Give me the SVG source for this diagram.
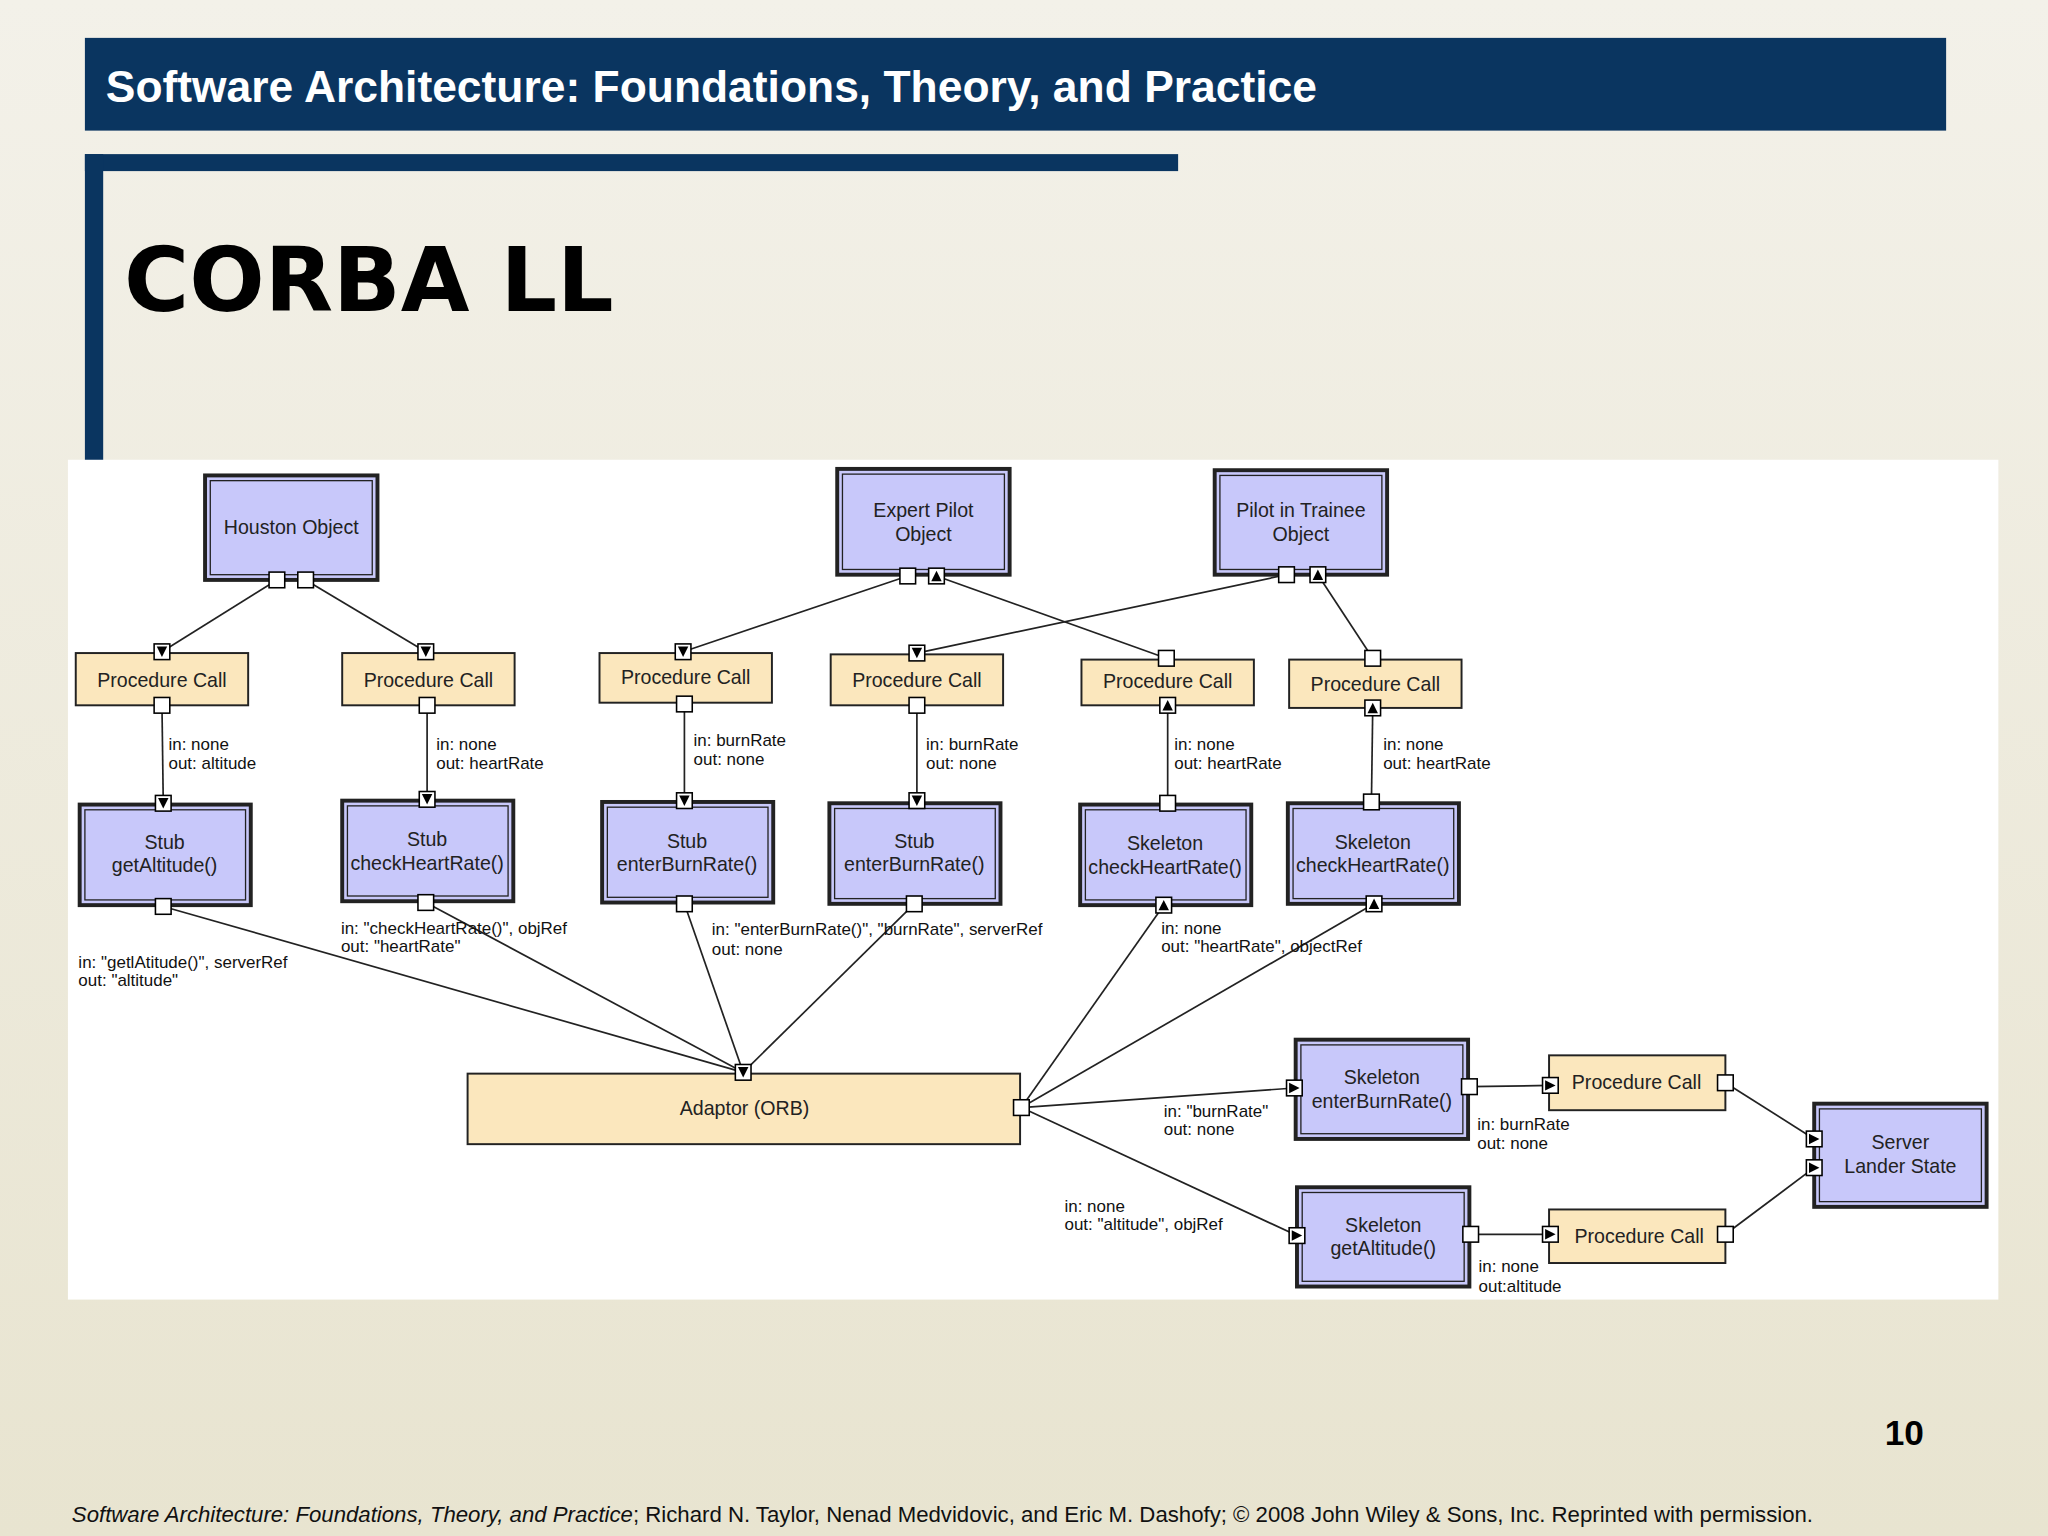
<svg xmlns="http://www.w3.org/2000/svg" width="2048" height="1536" viewBox="0 0 2048 1536">
<defs>
<linearGradient id="bg" x1="0" y1="0" x2="0" y2="1"><stop offset="0" stop-color="#f3f1e9"/><stop offset="1" stop-color="#e8e4d0"/></linearGradient>
<g id="pp"><rect x="-6" y="-6" width="12" height="12" fill="#fff" stroke="#000" stroke-width="1.2"/></g>
<g id="pd"><rect x="-6" y="-6" width="12" height="12" fill="#fff" stroke="#000" stroke-width="1.2"/><path d="M-4,-4 L4,-4 L0,4 Z" fill="#000"/></g>
<g id="pu"><rect x="-6" y="-6" width="12" height="12" fill="#fff" stroke="#000" stroke-width="1.2"/><path d="M-4,4 L4,4 L0,-4 Z" fill="#000"/></g>
<g id="pr"><rect x="-6" y="-6" width="12" height="12" fill="#fff" stroke="#000" stroke-width="1.2"/><path d="M-4,-4 L-4,4 L4,0 Z" fill="#000"/></g>
</defs>
<style>
.b{fill:#c8c8fa;stroke:#222;stroke-width:3}
.bi{fill:none;stroke:#222;stroke-width:1}
.t{fill:#fbe7bd;stroke:#222;stroke-width:1.5}
.n{font-family:"Liberation Sans",Arial,sans-serif;font-size:15px;fill:#222;text-anchor:middle}
.l{font-family:"Liberation Sans",Arial,sans-serif;font-size:13px;fill:#111}
.c line{stroke:#222;stroke-width:1.3}
</style>
<rect width="2048" height="1536" fill="url(#bg)"/>
<g transform="scale(1.306122)">
<rect x="65" y="29" width="1425" height="71" fill="#0a3560"/>
<text x="81" y="78" font-family="Liberation Sans,Arial,sans-serif" font-weight="bold" font-size="34" fill="#fff">Software Architecture: Foundations, Theory, and Practice</text>
<rect x="65" y="118" width="837" height="13" fill="#0a3560"/>
<rect x="65" y="118" width="14" height="236" fill="#0a3560"/>
<text x="95" y="238" font-family="DejaVu Sans,Verdana,sans-serif" font-weight="bold" font-size="68" fill="#000">CORBA LL</text>
<rect x="52" y="352" width="1478" height="643" fill="#fff"/>

<g class="c">
<line x1="212" y1="444" x2="124" y2="499"/><line x1="234" y1="444" x2="326" y2="499"/>
<line x1="695" y1="441" x2="523" y2="499"/><line x1="717" y1="441" x2="893" y2="504"/>
<line x1="985" y1="440" x2="702" y2="500"/><line x1="1009" y1="440" x2="1051" y2="504"/>
<line x1="124" y1="540" x2="125" y2="615"/><line x1="327" y1="540" x2="327" y2="612"/>
<line x1="524" y1="539" x2="524" y2="613"/><line x1="702" y1="540" x2="702" y2="613"/>
<line x1="894" y1="540" x2="894" y2="615"/><line x1="1051" y1="542" x2="1050" y2="614"/>
<line x1="125" y1="694" x2="569" y2="821"/><line x1="326" y1="691" x2="569" y2="821"/>
<line x1="524" y1="692" x2="569" y2="821"/><line x1="700" y1="692" x2="569" y2="821"/>
<line x1="891" y1="693" x2="782" y2="848"/><line x1="1052" y1="692" x2="782" y2="848"/>
<line x1="782" y1="848" x2="991" y2="833"/><line x1="782" y1="848" x2="993" y2="946"/>
<line x1="1125" y1="832" x2="1187" y2="831"/><line x1="1126" y1="945" x2="1187" y2="945"/>
<line x1="1321" y1="829" x2="1389" y2="872"/><line x1="1321" y1="945" x2="1389" y2="894"/>
</g>

<g id="houston"><rect class="b" x="157" y="364" width="132" height="80"/><rect class="bi" x="161" y="368" width="124" height="72"/><text class="n" x="223" y="409">Houston Object</text><use href="#pp" x="212" y="444"/><use href="#pp" x="234" y="444"/></g>
<g id="expert"><rect class="b" x="641" y="359" width="132" height="81"/><rect class="bi" x="645" y="363" width="124" height="73"/><text class="n" x="707" y="396">Expert Pilot</text><text class="n" x="707" y="414">Object</text><use href="#pp" x="695" y="441"/><use href="#pu" x="717" y="441"/></g>
<g id="trainee"><rect class="b" x="930" y="360" width="132" height="80"/><rect class="bi" x="934" y="364" width="124" height="72"/><text class="n" x="996" y="396">Pilot in Trainee</text><text class="n" x="996" y="414">Object</text><use href="#pp" x="985" y="440"/><use href="#pu" x="1009" y="440"/></g>

<g id="pc1"><rect class="t" x="58" y="500" width="132" height="40"/><text class="n" x="124" y="526">Procedure Call</text><use href="#pd" x="124" y="499"/><use href="#pp" x="124" y="540"/></g>
<g id="pc2"><rect class="t" x="262" y="500" width="132" height="40"/><text class="n" x="328" y="526">Procedure Call</text><use href="#pd" x="326" y="499"/><use href="#pp" x="327" y="540"/></g>
<g id="pc3"><rect class="t" x="459" y="500" width="132" height="38"/><text class="n" x="525" y="524">Procedure Call</text><use href="#pd" x="523" y="499"/><use href="#pp" x="524" y="539"/></g>
<g id="pc4"><rect class="t" x="636" y="501" width="132" height="39"/><text class="n" x="702" y="526">Procedure Call</text><use href="#pd" x="702" y="500"/><use href="#pp" x="702" y="540"/></g>
<g id="pc5"><rect class="t" x="828" y="505" width="132" height="35"/><text class="n" x="894" y="527">Procedure Call</text><use href="#pp" x="893" y="504"/><use href="#pu" x="894" y="540"/></g>
<g id="pc6"><rect class="t" x="987" y="505" width="132" height="37"/><text class="n" x="1053" y="529">Procedure Call</text><use href="#pp" x="1051" y="504"/><use href="#pu" x="1051" y="542"/></g>

<g id="stub1"><rect class="b" x="61" y="616" width="131" height="77"/><rect class="bi" x="65" y="620" width="123" height="69"/><text class="n" x="126" y="650">Stub</text><text class="n" x="126" y="668">getAltitude()</text><use href="#pd" x="125" y="615"/><use href="#pp" x="125" y="694"/></g>
<g id="stub2"><rect class="b" x="262" y="613" width="131" height="77"/><rect class="bi" x="266" y="617" width="123" height="69"/><text class="n" x="327" y="648" font-size="14">Stub</text><text class="n" x="327" y="666" font-size="14">checkHeartRate()</text><use href="#pd" x="327" y="612"/><use href="#pp" x="326" y="691"/></g>
<g id="stub3"><rect class="b" x="461" y="614" width="131" height="77"/><rect class="bi" x="465" y="618" width="123" height="69"/><text class="n" x="526" y="649">Stub</text><text class="n" x="526" y="667">enterBurnRate()</text><use href="#pd" x="524" y="613"/><use href="#pp" x="524" y="692"/></g>
<g id="stub4"><rect class="b" x="635" y="615" width="131" height="77"/><rect class="bi" x="639" y="619" width="123" height="69"/><text class="n" x="700" y="649">Stub</text><text class="n" x="700" y="667">enterBurnRate()</text><use href="#pd" x="702" y="613"/><use href="#pp" x="700" y="692"/></g>
<g id="skel1"><rect class="b" x="827" y="616" width="131" height="77"/><rect class="bi" x="831" y="620" width="123" height="69"/><text class="n" x="892" y="651" font-size="14">Skeleton</text><text class="n" x="892" y="669" font-size="14">checkHeartRate()</text><use href="#pp" x="894" y="615"/><use href="#pu" x="891" y="693"/></g>
<g id="skel2"><rect class="b" x="986" y="615" width="131" height="77"/><rect class="bi" x="990" y="619" width="123" height="69"/><text class="n" x="1051" y="650" font-size="14">Skeleton</text><text class="n" x="1051" y="668" font-size="14">checkHeartRate()</text><use href="#pp" x="1050" y="614"/><use href="#pu" x="1052" y="692"/></g>

<g id="adaptor"><rect class="t" x="358" y="822" width="423" height="54"/><text class="n" x="570" y="854">Adaptor (ORB)</text><use href="#pd" x="569" y="821"/><use href="#pp" x="782" y="848"/></g>
<g id="skel3"><rect class="b" x="992" y="796" width="132" height="76"/><rect class="bi" x="996" y="800" width="124" height="68"/><text class="n" x="1058" y="830">Skeleton</text><text class="n" x="1058" y="848">enterBurnRate()</text><use href="#pr" x="991" y="833"/><use href="#pp" x="1125" y="832"/></g>
<g id="skel4"><rect class="b" x="993" y="909" width="132" height="76"/><rect class="bi" x="997" y="913" width="124" height="68"/><text class="n" x="1059" y="943">Skeleton</text><text class="n" x="1059" y="961">getAltitude()</text><use href="#pr" x="993" y="946"/><use href="#pp" x="1126" y="945"/></g>
<g id="pc7"><rect class="t" x="1186" y="808" width="135" height="42"/><text class="n" x="1253" y="834">Procedure Call</text><use href="#pr" x="1187" y="831"/><use href="#pp" x="1321" y="829"/></g>
<g id="pc8"><rect class="t" x="1186" y="926" width="135" height="41"/><text class="n" x="1255" y="952">Procedure Call</text><use href="#pr" x="1187" y="945"/><use href="#pp" x="1321" y="945"/></g>
<g id="server"><rect class="b" x="1389" y="845" width="132" height="79"/><rect class="bi" x="1393" y="849" width="124" height="71"/><text class="n" x="1455" y="880">Server</text><text class="n" x="1455" y="898">Lander State</text><use href="#pr" x="1389" y="872"/><use href="#pr" x="1389" y="894"/></g>

<g class="l">
<text x="129" y="574">in: none</text><text x="129" y="589">out: altitude</text>
<text x="334" y="574">in: none</text><text x="334" y="589">out: heartRate</text>
<text x="531" y="571">in: burnRate</text><text x="531" y="586">out: none</text>
<text x="709" y="574">in: burnRate</text><text x="709" y="589">out: none</text>
<text x="899" y="574">in: none</text><text x="899" y="589">out: heartRate</text>
<text x="1059" y="574">in: none</text><text x="1059" y="589">out: heartRate</text>
<text x="261" y="715">in: "checkHeartRate()", objRef</text><text x="261" y="729">out: "heartRate"</text>
<text x="60" y="741">in: "getlAtitude()", serverRef</text><text x="60" y="755">out: "altitude"</text>
<text x="545" y="716">in: "enterBurnRate()", "burnRate", serverRef</text><text x="545" y="731">out: none</text>
<text x="889" y="715">in: none</text><text x="889" y="729">out: "heartRate", objectRef</text>
<text x="891" y="855">in: "burnRate"</text><text x="891" y="869">out: none</text>
<text x="815" y="928">in: none</text><text x="815" y="942">out: "altitude", objRef</text>
<text x="1131" y="865">in: burnRate</text><text x="1131" y="880">out: none</text>
<text x="1132" y="974">in: none</text><text x="1132" y="989">out:altitude</text>
</g>

<text x="1473" y="1106" text-anchor="end" font-family="Liberation Sans,Arial,sans-serif" font-weight="bold" font-size="27" fill="#000">10</text>
<text x="55" y="1165" font-family="Liberation Sans,Arial,sans-serif" font-size="17" fill="#111"><tspan font-style="italic">Software Architecture: Foundations, Theory, and Practice</tspan>; Richard N. Taylor, Nenad Medvidovic, and Eric M. Dashofy; © 2008 John Wiley &amp; Sons, Inc. Reprinted with permission.</text>
</g>
</svg>
